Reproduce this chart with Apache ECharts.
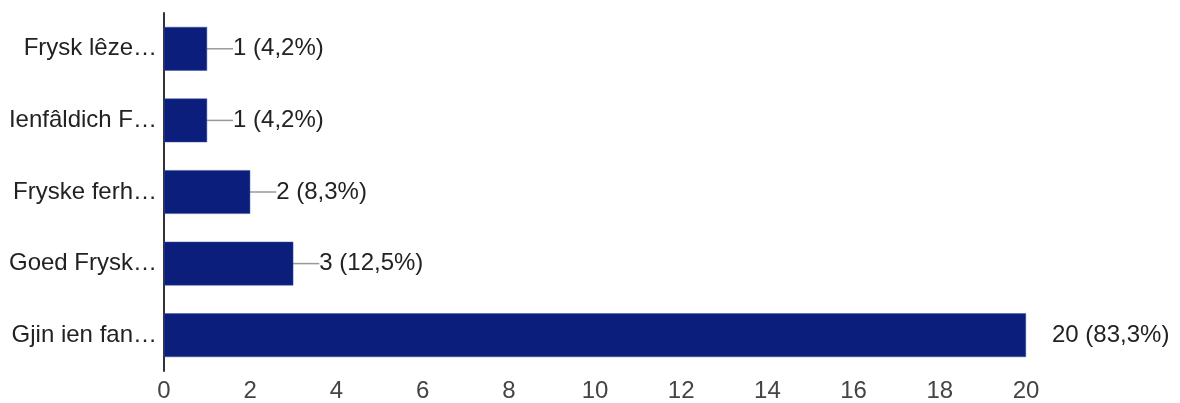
<!DOCTYPE html>
<html>
<head>
<meta charset="utf-8">
<script src="https://cdn.jsdelivr.net/npm/echarts@6/dist/echarts.min.js"></script>
<style>
html,body{margin:0;padding:0;background:#fff;}
#c{width:1180px;height:403px;}
</style>
</head>
<body>
<div id="c"></div>
<script>
var categories = ['Frysk lêze…', 'Ienfâldich F…', 'Fryske ferh…', 'Goed Frysk…', 'Gjin ien fan…'];
var values = [1, 1, 2, 3, 20];
var percents = ['4,2%', '4,2%', '8,3%', '12,5%', '83,3%'];
var xTicks = [0, 2, 4, 6, 8, 10, 12, 14, 16, 18, 20];

var chart = echarts.init(document.getElementById('c'));
var font = 'Liberation Sans, Arial, sans-serif';
chart.setOption({
  animation: false,
  grid: {left: 164, right: 154, top: 13, bottom: 29},
  xAxis: {
    type: 'value', min: xTicks[0], max: xTicks[xTicks.length - 1], interval: 2,
    axisLine: {show: false}, axisTick: {show: false}, splitLine: {show: false},
    axisLabel: {color: '#444', fontSize: 24, fontFamily: font, margin: 8}
  },
  yAxis: {
    type: 'category', data: categories, inverse: true,
    axisLine: {show: true, lineStyle: {color: '#333', width: 2}},
    axisTick: {show: false},
    axisLabel: {color: '#222', fontSize: 24, fontFamily: font, margin: 7}
  },
  series: [{
    type: 'bar',
    data: values.map(function (v, i) {
      return i === values.length - 1 ? {value: v, labelLine: {show: false}} : v;
    }),
    barCategoryGap: '39%',
    itemStyle: {color: '#0b1e7c', borderColor: '#3a4d9e', borderWidth: 0.5},
    label: {
      show: true, position: 'right', distance: 0,
      color: '#222', fontSize: 24, fontFamily: font,
      formatter: function (p) { return p.value + ' (' + percents[p.dataIndex] + ')'; }
    },
    labelLayout: {dx: 26},
    labelLine: {show: true, lineStyle: {color: '#999', width: 1.5}}
  }]
});
</script>
</body>
</html>
